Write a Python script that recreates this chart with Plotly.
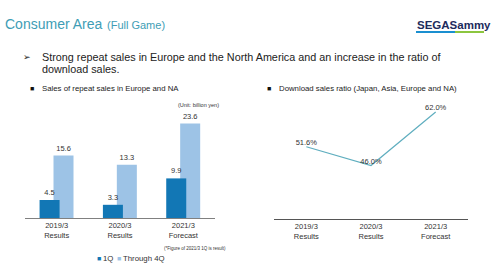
import plotly.graph_objects as go

W, H = 495, 267

categories = ["2019/3<br>Results", "2020/3<br>Results", "2021/3<br>Forecast"]
q1_sales = [4.5, 3.3, 9.9]
through4q_sales = [15.6, 13.3, 23.6]
dl_ratio = [51.6, 46.0, 62.0]
dl_labels = ["51.6%", "46.0%", "62.0%"]

DARK = "#1277B5"
LIGHT = "#9DC3E6"
TEAL = "#3E9DB5"
FONT = "Liberation Sans, Arial, sans-serif"


def px(x):
    return x / W


def py(y):
    return 1 - y / H


fig = go.Figure()

fig.add_bar(
    x=categories, y=through4q_sales, offset=-0.05, width=0.316,
    marker=dict(color=LIGHT, line=dict(width=0)),
    text=[f"{v:.1f}" for v in through4q_sales], textposition="outside",
    textfont=dict(size=7.5, color="#333333"), constraintext="none",
    cliponaxis=False, showlegend=False, xaxis="x", yaxis="y", hoverinfo="skip",
)
fig.add_bar(
    x=categories, y=q1_sales, offset=-0.27, width=0.316,
    marker=dict(color=DARK, line=dict(width=0)),
    text=[f"{v:.1f}" for v in q1_sales], textposition="outside",
    textfont=dict(size=7.5, color="#333333"), constraintext="none",
    cliponaxis=False, showlegend=False, xaxis="x", yaxis="y", hoverinfo="skip",
)

fig.add_scatter(
    x=categories, y=dl_ratio, mode="lines+text",
    line=dict(color="#5FAEBF", width=1.2),
    text=dl_labels, textposition="top center",
    textfont=dict(size=7.5, color="#333333"),
    cliponaxis=False, showlegend=False, xaxis="x2", yaxis="y2", hoverinfo="skip",
)

axis_common = dict(
    type="category", range=[-0.5, 2.5], showgrid=False, zeroline=False,
    showline=True, ticks="", tickfont=dict(size=7.5, color="#333333", family=FONT),
    fixedrange=True,
)

fig.update_layout(
    width=W, height=H, margin=dict(l=0, r=0, t=0, b=0),
    paper_bgcolor="white", plot_bgcolor="rgba(0,0,0,0)",
    font=dict(family=FONT, color="#222222"),
    barmode="overlay", hovermode=False,
    xaxis=dict(domain=[px(25), px(215)], anchor="y", linecolor="#808080", linewidth=1, **axis_common),
    yaxis=dict(domain=[py(218), py(118)], range=[0, 25], visible=False, fixedrange=True),
    xaxis2=dict(domain=[px(274), px(468)], anchor="y2", linecolor="#555555", linewidth=1, **axis_common),
    yaxis2=dict(domain=[py(219), py(102)], range=[30, 65], visible=False, fixedrange=True),
)

ann = []


def text(x, y, s, size, color="#222222", xanchor="left", bold=False):
    ann.append(dict(
        x=px(x), y=py(y), xref="paper", yref="paper", text=(f"<b>{s}</b>" if bold else s),
        showarrow=False, xanchor=xanchor, yanchor="middle",
        font=dict(size=size, color=color, family=FONT),
    ))


# Title
text(3, 24, "Consumer Area", 14, TEAL)
text(105, 25, "(Full Game)", 11, TEAL)

# Logo
ann.append(dict(x=px(415), y=py(25), xref="paper", yref="paper",
                text="<b>SEGA</b><b>Sammy</b>", showarrow=False, xanchor="left", yanchor="middle",
                font=dict(size=11.5, color="#1D2B5C", family="Liberation Sans, Arial")))

# Bullet text
text(21, 57, "➢", 9, "#222222")
text(40, 57, "Strong repeat sales in Europe and the North America and an increase in the ratio of", 10.8)
text(40, 69, "download sales.", 10.8)

# Sub headers
text(28, 89, "■", 7, "#111111")
text(40, 89, "Sales of repeat sales in Europe and NA", 7.8)
text(265, 89, "■", 7, "#111111")
text(277, 89, "Download sales ratio (Japan, Asia, Europe and NA)", 7.8)

# Unit and note
text(198, 105, "(Unit: billion yen)", 5.5, "#333333", xanchor="center")
text(162, 249, "(*Figure of 2021/3 1Q is result)", 4.5, "#333333")

# Legend
text(95, 258, "■", 7, DARK)
text(101, 258, "1Q", 7.8, "#333333")
text(115, 258, "■", 7, LIGHT)
text(121, 258, "Through 4Q", 7.8, "#333333")

fig.update_layout(annotations=ann)

# Logo underline
fig.add_shape(type="line", xref="paper", yref="paper", x0=px(416), x1=px(455), y0=py(32), y1=py(32),
              line=dict(color="#1A8FD0", width=2))
fig.add_shape(type="line", xref="paper", yref="paper", x0=px(455), x1=px(484), y0=py(32), y1=py(32),
              line=dict(color="#8CC63F", width=2))

fig.write_html("out.html", config={"displayModeBar": False})
